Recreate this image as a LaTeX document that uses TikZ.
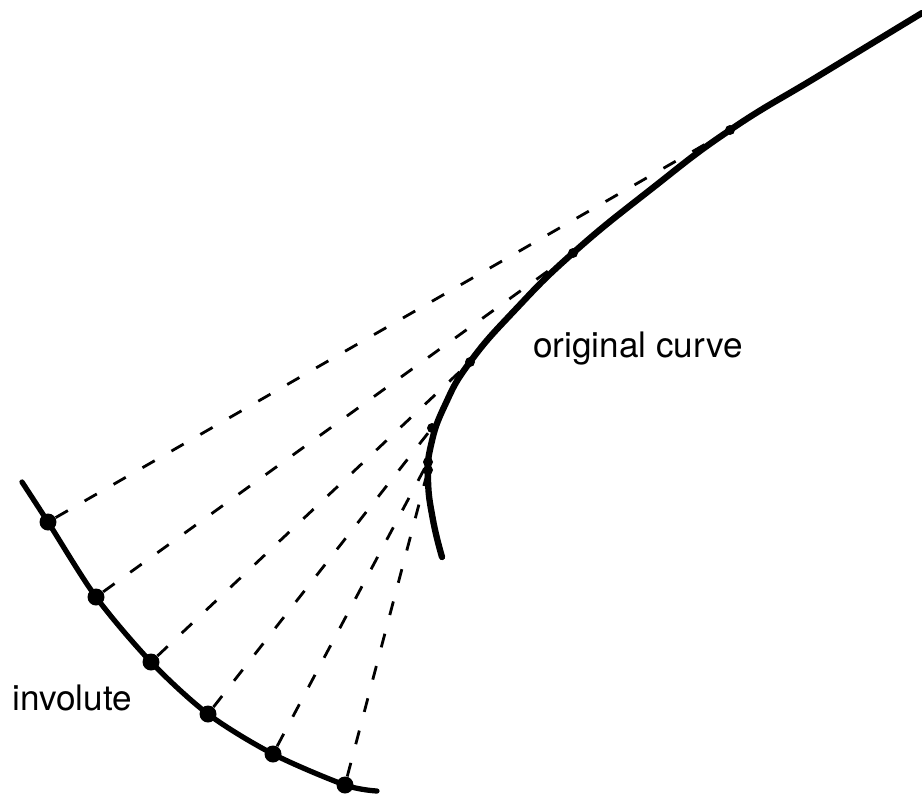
\documentclass[tikz,border=0pt]{standalone}
\usepackage{fontspec}
\setmainfont{TeX Gyre Heros}
\usetikzlibrary{positioning}

\begin{document}
\begin{tikzpicture}[x=0.02cm, y=-0.02cm,
    every node/.style={font=\fontsize{20}{24}\selectfont},
    inv/.style={circle, fill, inner sep=0pt, minimum size=0.34cm},
    tan/.style={circle, fill, inner sep=0pt, minimum size=0.2cm},
    string/.style={line width=1.6pt, dash pattern=on 8pt off 11pt}]
    \useasboundingbox (0,0) rectangle (922,798);
    % original curve
    \draw[line width=3.6pt, line cap=round] plot[smooth, tension=0.8] coordinates {(922,13) (820,75) (730,130) (650,190) (573,253) (515,310) (470,362) (445,405) (431,445) (428,480) (433,520) (442,557)};
    % involute
    \draw[line width=3pt, line cap=round] plot[smooth] coordinates {(22,482) (48,522) (96,597) (151,662) (208,714) (273,754) (345,785) (377,791)};
    % points on the original curve
    \node[tan] (T1) at (730,130) {};
    \node[tan] (T2) at (573,253) {};
    \node[tan] (T3) at (470,362) {};
    \node[tan] (T4) at (432,428) {};
    \node[tan] (T5) at (428,462) {};
    \node[tan] (T6) at (428,470) {};
    % points on the involute
    \node[inv] (P1) at (48,522) {};
    \node[inv] (P2) at (96,597) {};
    \node[inv] (P3) at (151,662) {};
    \node[inv] (P4) at (208,714) {};
    \node[inv] (P5) at (273,754) {};
    \node[inv] (P6) at (345,785) {};
    \foreach \i in {1,...,6}
        \draw[string] (P\i) -- (T\i);
    \node[anchor=base west, inner sep=0pt] (orig) at (533,357) {original curve};
    \node[anchor=base west, inner sep=0pt] (invo) at (12,710) {involute};
\end{tikzpicture}
\end{document}
